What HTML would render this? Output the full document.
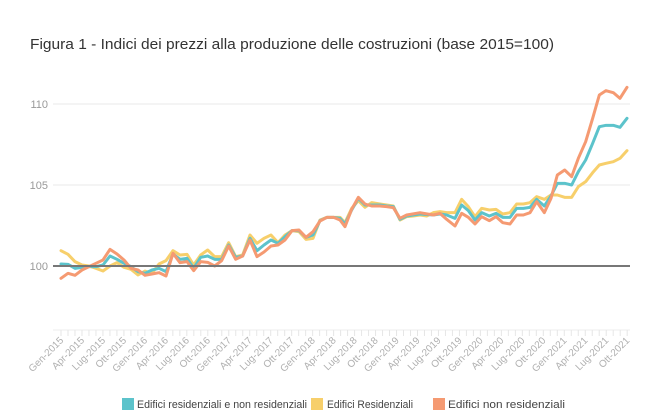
<!DOCTYPE html>
<html><head><meta charset="utf-8"><style>
html,body{margin:0;padding:0;background:#fff;}
body{width:671px;height:412px;overflow:hidden;font-family:"Liberation Sans",sans-serif;}
</style></head><body>
<svg width="671" height="412" xmlns="http://www.w3.org/2000/svg" font-family="Liberation Sans, sans-serif">
<text x="30" y="49" font-size="15" fill="#333" textLength="524" lengthAdjust="spacingAndGlyphs">Figura 1 - Indici dei prezzi alla produzione delle costruzioni (base 2015=100)</text>
<line x1="53" y1="104" x2="630" y2="104" stroke="#e8e8e8"/>
<line x1="53" y1="185" x2="630" y2="185" stroke="#e8e8e8"/>
<line x1="53" y1="330" x2="630" y2="330" stroke="#eee"/>
<g font-size="11" fill="#999" text-anchor="end">
<text x="48" y="108">110</text><text x="48" y="189">105</text><text x="48" y="270">100</text>
</g>
<g id="ticks" stroke="#e6e6e6"></g>
<g id="xl" font-size="10" fill="#b0b0b0" text-anchor="end"></g>
<g transform="translate(30,160) scale(0.33333)" fill="none" stroke-linejoin="round" stroke-linecap="round">
<polyline vector-effect="non-scaling-stroke" stroke="#f7cf6b" stroke-width="3" points="93,272 114,283 135,305 156,315 177,318 198,325 219,333 240,318 261,308 282,322 303,328 324,345 345,333 366,340 387,312 408,302 429,272 450,285 471,283 491,315 512,285 533,270 554,290 575,290 596,248 617,290 638,285 660,225 681,250 702,235 723,225 744,248 765,225 786,212 807,215 828,238 849,235 870,180 891,172 911,172 930,172 945,188 965,145 985,122 1005,142 1025,128 1050,132 1070,135 1090,138 1110,180 1130,170 1150,168 1170,165 1190,168 1210,158 1230,155 1250,158 1275,158 1295,118 1315,140 1335,170 1355,145 1378,150 1398,148 1418,162 1440,158 1460,132 1480,132 1500,128 1520,110 1543,118 1563,105 1582,105 1604,112 1625,112 1645,80 1667,65 1688,38 1708,15 1728,10 1750,5 1770,-5 1791,-28"/>
<polyline vector-effect="non-scaling-stroke" stroke="#5cc3cb" stroke-width="3" points="93,312 114,313 135,325 156,322 177,320 198,320 219,315 240,288 261,298 282,310 303,320 324,335 345,340 366,330 387,325 408,335 429,282 450,298 471,295 491,325 512,292 533,288 554,298 575,298 596,255 617,292 638,288 660,235 681,272 702,255 723,240 744,250 765,230 786,212 807,212 828,232 849,225 870,182 891,172 911,172 930,175 945,192 965,150 985,115 1005,135 1025,135 1050,135 1070,138 1090,140 1110,178 1130,168 1170,162 1210,165 1230,162 1250,165 1275,175 1295,135 1315,152 1335,180 1355,158 1378,168 1398,160 1418,172 1440,172 1460,145 1480,145 1500,142 1520,118 1543,138 1563,108 1582,70 1604,70 1625,75 1645,35 1667,0 1688,-50 1708,-100 1728,-104 1750,-104 1770,-98 1791,-125"/>
<polyline vector-effect="non-scaling-stroke" stroke="#f59a72" stroke-width="3" points="93,355 114,340 135,346 156,330 177,320 198,310 219,300 240,268 261,282 282,300 303,325 324,330 345,346 366,342 387,338 408,348 429,280 450,308 471,305 491,332 512,305 533,307 554,318 575,302 596,258 617,298 638,288 660,240 681,290 702,276 723,258 744,255 765,240 786,212 807,210 828,232 849,215 870,183 891,172 911,172 930,180 945,200 965,148 985,112 1005,132 1025,138 1050,138 1070,140 1090,143 1110,175 1130,165 1170,158 1210,165 1230,160 1250,178 1275,198 1295,160 1315,172 1335,192 1355,170 1378,182 1398,170 1418,188 1440,192 1460,165 1480,165 1500,158 1520,125 1543,158 1563,115 1582,45 1604,30 1625,50 1645,-5 1667,-55 1688,-125 1708,-195 1728,-208 1750,-202 1770,-185 1791,-218"/>
</g>
<line x1="53" y1="266" x2="630" y2="266" stroke="#777" stroke-width="2"/>
<g font-size="11" fill="#444">
<rect x="122" y="398" width="12" height="12" fill="#5cc3cb"/><text x="137" y="408" textLength="170" lengthAdjust="spacingAndGlyphs">Edifici residenziali e non residenziali</text>
<rect x="311" y="398" width="12" height="12" fill="#f7cf6b"/><text x="327" y="408" textLength="86" lengthAdjust="spacingAndGlyphs">Edifici Residenziali</text>
<rect x="433" y="398" width="12" height="12" fill="#f59a72"/><text x="448" y="408" textLength="117" lengthAdjust="spacingAndGlyphs">Edifici non residenziali</text>
</g>
<script>
var m=['Gen','Apr','Lug','Ott'],t=document.getElementById('ticks'),xl=document.getElementById('xl'),ns='http://www.w3.org/2000/svg';
for(var i=0;i<82;i++){var x=61+6.99*i;var l=document.createElementNS(ns,'line');l.setAttribute('x1',x);l.setAttribute('x2',x);l.setAttribute('y1',330);l.setAttribute('y2',336);t.appendChild(l);
if(i%3==0){var tx=document.createElementNS(ns,'text');var y=341;tx.setAttribute('x',x+3);tx.setAttribute('y',y);tx.setAttribute('transform','rotate(-45 '+(x+3)+' '+y+')');tx.textContent=m[(i/3)%4]+'-'+(2015+Math.floor(i/12));xl.appendChild(tx);}}
</script>
</svg>
</body></html>
